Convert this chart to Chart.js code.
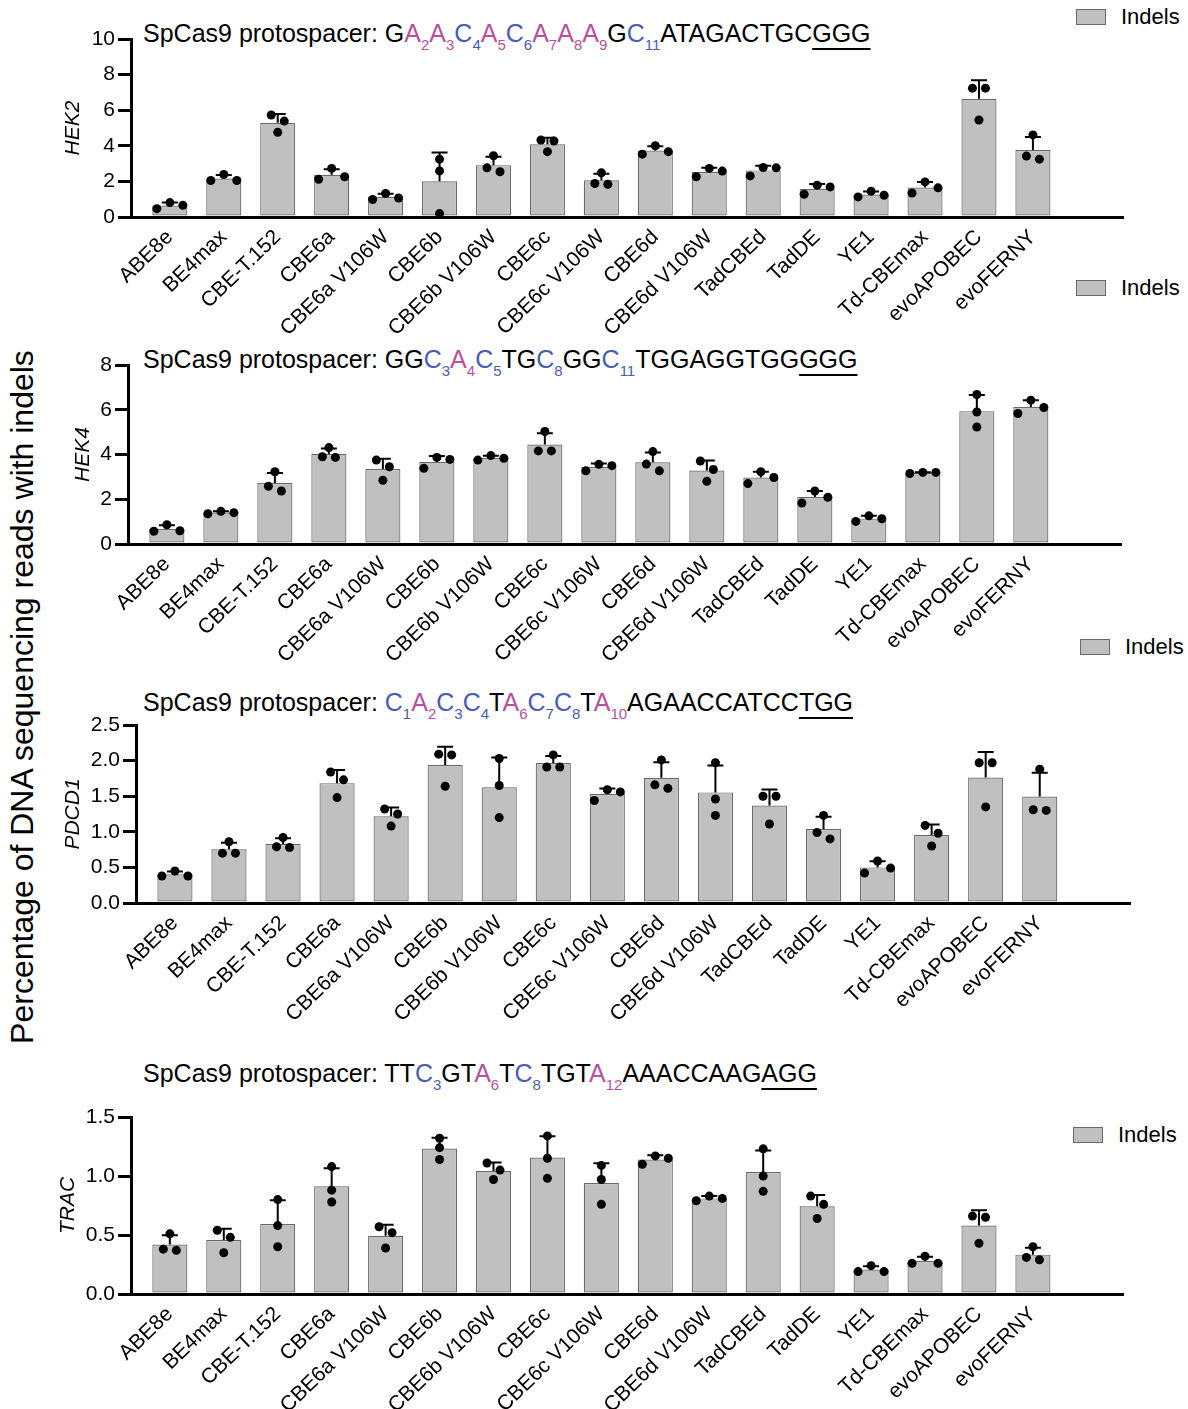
<!DOCTYPE html>
<html>
<head>
<meta charset="utf-8">
<script src="https://cdn.jsdelivr.net/npm/chart.js@4.4.1/dist/chart.umd.min.js"></script>
<style>
  body { margin: 0; background: #fff; width: 1188px; height: 1409px; position: relative; overflow: hidden;
         font-family: "Liberation Sans", Arial, Helvetica, sans-serif; color: #000; }
  canvas { position: absolute; left: 0; }
  .title { position: absolute; left: 143px; font-size: 25px; line-height: 25px; white-space: nowrap; }
  .a { color: #b8509f; }
  .c { color: #4a5cb3; }
  sub { font-size: 15px; line-height: 0; vertical-align: baseline; position: relative; top: 8px; }
  .pam { text-decoration: underline; text-decoration-thickness: 2px; text-underline-offset: 6px; }
  .legend { position: absolute; height: 22px; display: flex; align-items: center; font-size: 22px; }
  .legend i { display: inline-block; width: 28px; height: 14px; background: #c0c0c0; border: 1px solid #6a6a6a; margin-right: 15px; }
  .bigy { position: absolute; width: 800px; left: -378px; top: 681px; font-size: 32px; line-height: 32px;
          text-align: center; transform: rotate(-90deg); white-space: nowrap; }
</style>
</head>
<body>

<div class="bigy">Percentage of DNA sequencing reads with indels</div>

<div class="title" style="top:21px">SpCas9 protospacer: G<span class="a">A<sub>2</sub></span><span class="a">A<sub>3</sub></span><span class="c">C<sub>4</sub></span><span class="a">A<sub>5</sub></span><span class="c">C<sub>6</sub></span><span class="a">A<sub>7</sub></span><span class="a">A<sub>8</sub></span><span class="a">A<sub>9</sub></span>G<span class="c">C<sub>11</sub></span>ATAGACTGC<span class="pam">GGG</span></div>
<div class="title" style="top:347px">SpCas9 protospacer: GG<span class="c">C<sub>3</sub></span><span class="a">A<sub>4</sub></span><span class="c">C<sub>5</sub></span>TG<span class="c">C<sub>8</sub></span>GG<span class="c">C<sub>11</sub></span>TGGAGGTGG<span class="pam">GGG</span></div>
<div class="title" style="top:690px">SpCas9 protospacer: <span class="c">C<sub>1</sub></span><span class="a">A<sub>2</sub></span><span class="c">C<sub>3</sub></span><span class="c">C<sub>4</sub></span>T<span class="a">A<sub>6</sub></span><span class="c">C<sub>7</sub></span><span class="c">C<sub>8</sub></span>T<span class="a">A<sub>10</sub></span>AGAACCATCC<span class="pam">TGG</span></div>
<div class="title" style="top:1061px">SpCas9 protospacer: TT<span class="c">C<sub>3</sub></span>GT<span class="a">A<sub>6</sub></span>T<span class="c">C<sub>8</sub></span>TGT<span class="a">A<sub>12</sub></span>AAACCAAG<span class="pam">AGG</span></div>

<div class="legend" style="left:1076px;top:6px"><i></i>Indels</div>
<div class="legend" style="left:1076px;top:277px"><i></i>Indels</div>
<div class="legend" style="left:1080px;top:636px"><i></i>Indels</div>
<div class="legend" style="left:1073px;top:1124px"><i></i>Indels</div>

<canvas id="hek2" width="1188" height="347" style="top:0px"></canvas>
<canvas id="hek4" width="1188" height="374" style="top:300px"></canvas>
<canvas id="pdcd1" width="1188" height="353" style="top:680px"></canvas>
<canvas id="trac" width="1188" height="329" style="top:1080px"></canvas>

<script>
// base editors, same order in every panel
var CATS = ['ABE8e', 'BE4max', 'CBE-T.152', 'CBE6a', 'CBE6a V106W', 'CBE6b', 'CBE6b V106W',
            'CBE6c', 'CBE6c V106W', 'CBE6d', 'CBE6d V106W', 'TadCBEd', 'TadDE', 'YE1',
            'Td-CBEmax', 'evoAPOBEC', 'evoFERNY'];

// % indels, three replicates per editor
var HEK2_REPS = [
  [0.47, 0.81, 0.66], [2.05, 2.39, 2.05], [5.73, 5.39, 4.76], [2.12, 2.73, 2.26],
  [0.98, 1.32, 1.07], [3.25, 2.59, 0.19], [3.44, 2.54, 2.76], [4.32, 4.27, 3.67],
  [2.48, 1.84, 1.88], [4.00, 3.53, 3.67], [2.73, 2.58, 2.26], [2.78, 2.76, 2.31],
  [1.79, 1.69, 1.28], [1.13, 1.45, 1.22], [1.97, 1.64, 1.35], [7.24, 7.24, 5.45],
  [4.61, 3.25, 3.42]
];
var HEK4_REPS = [
  [0.57, 0.86, 0.59], [1.35, 1.46, 1.40], [2.37, 3.23, 2.58], [3.87, 4.31, 3.90],
  [3.75, 3.45, 2.85], [3.87, 3.78, 3.38], [3.75, 3.95, 3.83], [5.03, 4.16, 4.16],
  [3.27, 3.56, 3.50], [4.13, 3.27, 3.57], [3.71, 3.33, 2.80], [3.23, 2.97, 2.70],
  [2.37, 2.09, 1.83], [1.01, 1.26, 1.13], [3.15, 3.20, 3.20], [6.68, 5.90, 5.23],
  [6.43, 6.10, 5.83]
];
var PDCD1_REPS = [
  [0.38, 0.45, 0.38], [0.86, 0.70, 0.70], [0.92, 0.78, 0.79], [1.84, 1.73, 1.48],
  [1.32, 1.25, 1.08], [2.09, 2.08, 1.64], [2.03, 1.65, 1.20], [2.08, 1.91, 1.91],
  [1.59, 1.56, 1.44], [2.01, 1.61, 1.66], [1.97, 1.46, 1.23], [1.50, 1.50, 1.11],
  [1.23, 0.90, 0.99], [0.59, 0.49, 0.42], [1.09, 0.98, 0.80], [1.97, 1.97, 1.35],
  [1.88, 1.30, 1.31]
];
var TRAC_REPS = [
  [0.51, 0.37, 0.38], [0.54, 0.48, 0.35], [0.80, 0.58, 0.40], [1.08, 0.88, 0.78],
  [0.57, 0.52, 0.39], [1.32, 1.24, 1.14], [1.11, 1.05, 0.97], [1.34, 1.15, 0.98],
  [1.09, 0.97, 0.76], [1.17, 1.10, 1.15], [0.79, 0.83, 0.81], [1.23, 1.00, 0.87],
  [0.83, 0.76, 0.64], [0.19, 0.24, 0.19], [0.26, 0.32, 0.26], [0.66, 0.65, 0.43],
  [0.40, 0.29, 0.31]
];

var HEK2_TICKS = [0, 2, 4, 6, 8, 10];
var HEK4_TICKS = [0, 2, 4, 6, 8];
var PDCD1_TICKS = [0, 0.5, 1.0, 1.5, 2.0, 2.5];
var TRAC_TICKS = [0, 0.5, 1.0, 1.5];

Chart.defaults.font.family = '"Liberation Sans", Arial, Helvetica, sans-serif';
Chart.defaults.color = '#000';

function mean(a) { return a.reduce(function(s, v) { return s + v; }, 0) / a.length; }
function sd(a) {
  var m = mean(a);
  return Math.sqrt(a.reduce(function(s, v) { return s + (v - m) * (v - m); }, 0) / (a.length - 1));
}

// mean + SD whisker above each bar
var errorBars = {
  id: 'errorBars',
  afterDatasetDraw: function(chart, args, opts) {
    if (args.meta.type !== 'bar') return;
    var ctx = chart.ctx, x = chart.scales.x, y = chart.scales.y;
    ctx.save();
    ctx.strokeStyle = '#000';
    ctx.lineWidth = 2;
    opts.reps.forEach(function(r, i) {
      var px = x.getPixelForValue(i);
      var y0 = y.getPixelForValue(mean(r));
      var y1 = y.getPixelForValue(mean(r) + sd(r));
      ctx.beginPath();
      ctx.moveTo(px, y0); ctx.lineTo(px, y1);
      ctx.moveTo(px - 8, y1); ctx.lineTo(px + 8, y1);
      ctx.stroke();
    });
    ctx.restore();
  }
};

// spread replicate dots sideways where they would overlap
function spreadDots(chart, reps) {
  var xs = chart.scales.x, ys = chart.scales.y;
  var unit = xs.getPixelForValue(1) - xs.getPixelForValue(0);
  var step = 13 / unit;
  var pts = [];
  reps.forEach(function(vals, i) {
    var sorted = vals.slice().sort(function(a, b) { return b - a; });
    var rows = [], row = [sorted[0]];
    for (var k = 1; k < sorted.length; k++) {
      if (ys.getPixelForValue(sorted[k]) - ys.getPixelForValue(sorted[k - 1]) < 9) row.push(sorted[k]);
      else { rows.push(row); row = [sorted[k]]; }
    }
    rows.push(row);
    rows.forEach(function(r) {
      var slots = r.length === 3 ? [0, 1, -1] : r.length === 2 ? [-0.5, 0.5] : [0];
      r.forEach(function(v, k) { pts.push({ x: i + slots[k] * step, y: v }); });
    });
  });
  chart.data.datasets[1].data = pts;
  chart.update('none');
}

function drawPanel(id, reps, ticks, label, box) {
  var canvas = document.getElementById(id);
  var dec = ticks[ticks.length - 1] < 5 ? 1 : 0;
  var chart = new Chart(canvas, {
    type: 'bar',
    data: {
      datasets: [{
        label: 'Indels',
        data: reps.map(function(r, i) { return { x: i, y: mean(r) }; }),
        backgroundColor: '#c0c0c0',
        borderColor: '#6a6a6a',
        borderWidth: 1.2,
        borderSkipped: false,
        barPercentage: 0.65,
        categoryPercentage: 1,
        order: 1
      }, {
        type: 'scatter',
        data: [],
        pointRadius: 4.5,
        pointBackgroundColor: '#000',
        pointBorderWidth: 0,
        order: 0
      }]
    },
    options: {
      responsive: false,
      animation: false,
      devicePixelRatio: 1,
      events: [],
      layout: { padding: { top: box.top, right: canvas.width - box.right, left: 0, bottom: 0 } },
      plugins: {
        legend: { display: false },
        tooltip: { enabled: false },
        errorBars: { reps: reps }
      },
      scales: {
        x: {
          type: 'linear',
          offset: false,
          min: -0.72,
          max: 17.67,
          afterBuildTicks: function(s) { s.ticks = CATS.map(function(_, i) { return { value: i }; }); },
          afterFit: function(s) { s.height = canvas.height - box.bottom; },
          grid: { display: false, drawTicks: false },
          border: { display: true, width: 3, color: '#000' },
          ticks: {
            autoSkip: false, minRotation: 44, maxRotation: 44, padding: 8,
            font: { size: 21 },
            callback: function(v, i) { return CATS[i]; }
          }
        },
        y: {
          min: ticks[0],
          max: ticks[ticks.length - 1],
          afterBuildTicks: function(s) { s.ticks = ticks.map(function(v) { return { value: v }; }); },
          afterFit: function(s) { s.width = box.left; },
          grid: { drawOnChartArea: false, drawTicks: true, tickLength: 13, tickWidth: 3, tickColor: '#000', lineWidth: 3, color: '#000' },
          border: { display: true, width: 3, color: '#000' },
          ticks: { padding: 3, font: { size: 21 }, callback: function(v) { return v.toFixed(dec); } },
          title: { display: true, text: label, font: { size: 21, style: 'italic' }, padding: { top: box.title - 12.6, bottom: 0 } }
        }
      }
    },
    plugins: [errorBars]
  });
  spreadDots(chart, reps);
}

// plot box in canvas pixels: top/bottom of value axis, left/right of the baseline, title centre
drawPanel('hek2', HEK2_REPS, HEK2_TICKS, 'HEK2', { top: 39, bottom: 217, left: 131, right: 1123, title: 73 });
drawPanel('hek4', HEK4_REPS, HEK4_TICKS, 'HEK4', { top: 65, bottom: 244, left: 128, right: 1121, title: 83 });
drawPanel('pdcd1', PDCD1_REPS, PDCD1_TICKS, 'PDCD1', { top: 45, bottom: 223, left: 136, right: 1130, title: 73 });
drawPanel('trac', TRAC_REPS, TRAC_TICKS, 'TRAC', { top: 37, bottom: 214, left: 131, right: 1123, title: 68 });
</script>
</body>
</html>
